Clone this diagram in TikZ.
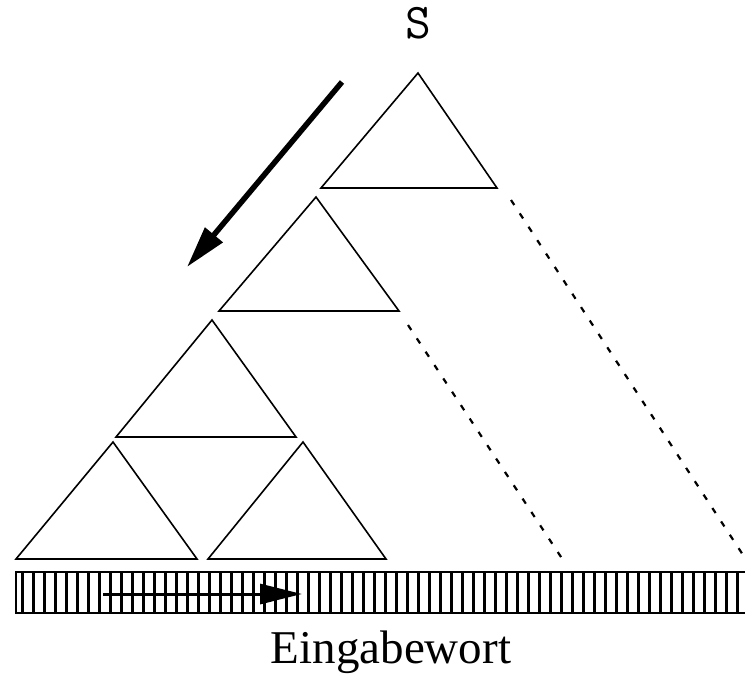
\documentclass[tikz,border=0pt]{standalone}
\usepackage{fontspec}
\newfontfamily\timesfont{Liberation Serif}
\usetikzlibrary{arrows.meta}
\begin{document}
\begin{tikzpicture}[x=1pt,y=-1pt,
  tri/.style={draw=black,line width=1.6pt,line join=miter},
  dotline/.style={draw=black,line width=2.2pt,dash pattern=on 6pt off 10pt},
  bigarrow/.style={draw=black,line width=5.5pt,-{Triangle[length=42pt,width=22pt]}},
  smallarrow/.style={draw=black,line width=3pt,-{Triangle[length=42pt,width=20pt]}},
  stripe/.style={draw=black,line width=3pt},
  tapeline/.style={draw=black,line width=2pt}]
\clip (0,0) rectangle (745,675);
\fill[white] (0,0) rectangle (745,675);
% triangles
\coordinate (t1a) at (418,73);  \coordinate (t1l) at (321,188); \coordinate (t1r) at (497,188);
\coordinate (t2a) at (316,197); \coordinate (t2l) at (219,311); \coordinate (t2r) at (399,311);
\coordinate (t3a) at (212,320); \coordinate (t3l) at (116,437); \coordinate (t3r) at (296,437);
\coordinate (t4a) at (113,442); \coordinate (t4l) at (16,559);  \coordinate (t4r) at (197,559);
\coordinate (t5a) at (303,442); \coordinate (t5l) at (208,559); \coordinate (t5r) at (386,559);
\foreach \t in {t1,t2,t3,t4,t5}{
  \draw[tri] (\t a) -- (\t l) -- (\t r) -- cycle;
}
% dotted lines
\coordinate (d1s) at (511,200); \coordinate (d1e) at (745,558);
\coordinate (d2s) at (408,325); \coordinate (d2e) at (565,563);
\draw[dotline] (d1s) -- (d1e);
\draw[dotline] (d2s) -- (d2e);
% big arrow
\coordinate (ba1) at (342,82); \coordinate (ba2) at (187,267);
\draw[bigarrow] (ba1) -- (ba2);
% tape
\coordinate (tapetl) at (16,572); \coordinate (tapebr) at (760,613);
\draw[tapeline] (tapetl) rectangle (tapebr);
\foreach \k in {0,...,65}{
  \draw[stripe] ({22+11*\k},572) -- ({22+11*\k},613);
}
% small arrow
\coordinate (sa1) at (103,594); \coordinate (sa2) at (302,594);
\draw[smallarrow] (sa1) -- (sa2);
% labels
\node[anchor=base,inner sep=0pt] (S) at (418,38) {\ttfamily\fontsize{50}{50}\selectfont S};
\node[anchor=base,inner sep=0pt] (word) at (391,663) {\fontsize{47}{50}\selectfont\timesfont Eingabewort};
\end{tikzpicture}
\end{document}
